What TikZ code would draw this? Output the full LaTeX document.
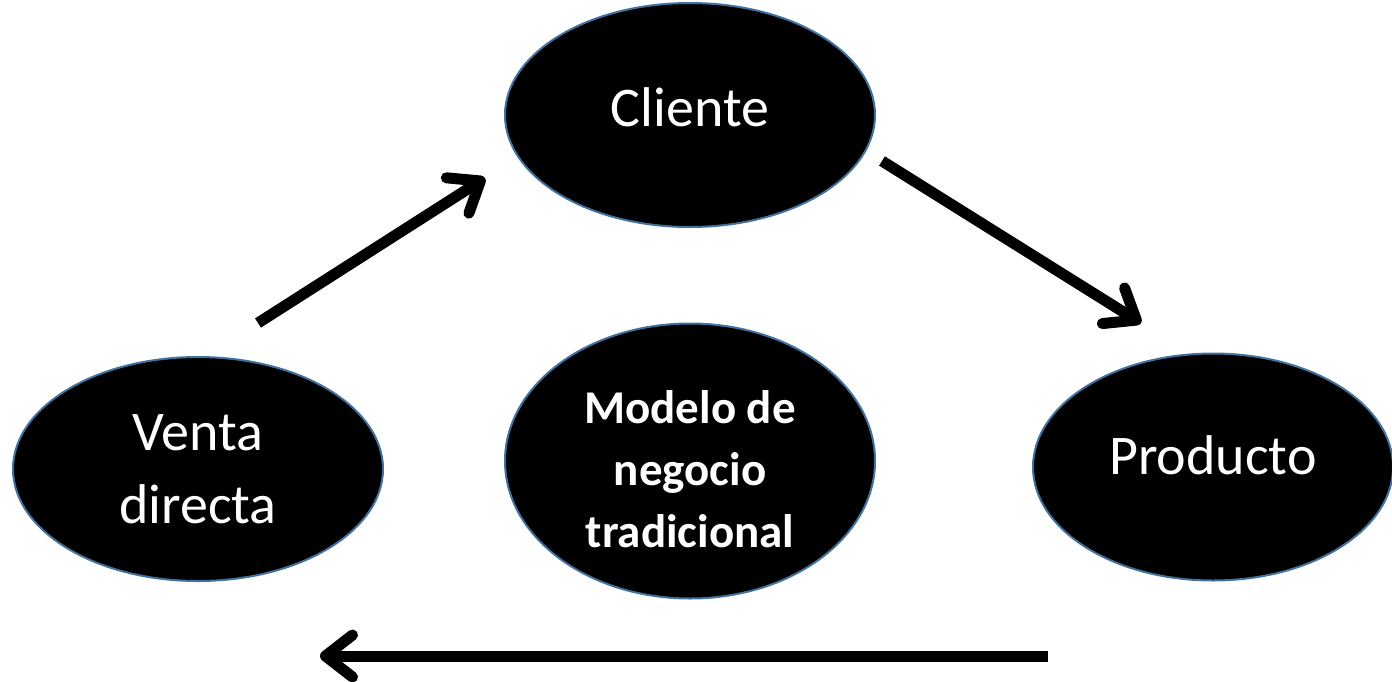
\documentclass[tikz,border=0pt]{standalone}
\usepackage{fontspec}
\setmainfont{Carlito}
\usetikzlibrary{arrows.meta,shapes.geometric}

\definecolor{borde}{RGB}{65,113,156}

\begin{document}
\begin{tikzpicture}[x=1pt,y=-1pt,
		elipse/.style={ellipse,fill=black,draw=borde,line width=2pt,inner sep=0pt,
			minimum width=370pt,minimum height=224pt,text=white,align=center,
			font=\fontsize{56}{73}\selectfont},
		flecha/.style={line width=11pt,-{Straight Barb[length=27pt,width=42pt,line width=11pt,round]}}]
		\useasboundingbox (0,0) rectangle (1392,681);

		\node[elipse,text depth=16pt]						(cliente)	at (690,115)	{Cliente};
		\node[elipse]										(venta)		at (198,469)	{Venta\\directa};
		\node[elipse,minimum width=360pt,minimum height=227pt,text depth=24pt]
															(producto)	at (1213,467)	{Producto};
		\node[elipse,minimum height=275pt,font=\bfseries\fontsize{47}{62}\selectfont]
															(modelo)	at (690,461)	{\rule{0pt}{49pt}Modelo de\\negocio\\tradicional};

		\coordinate (a1)	at (258,323);
		\coordinate (b1)	at (485,178);
		\coordinate (a2)	at (882,161);
		\coordinate (b2)	at (1141,323);
		\coordinate (a3)	at (1048,656);
		\coordinate (b3)	at (320,656);

		\draw[flecha] (a1) -- (b1);
		\draw[flecha] (a2) -- (b2);
		\draw[flecha] (a3) -- (b3);
	\end{tikzpicture}
\end{document}
